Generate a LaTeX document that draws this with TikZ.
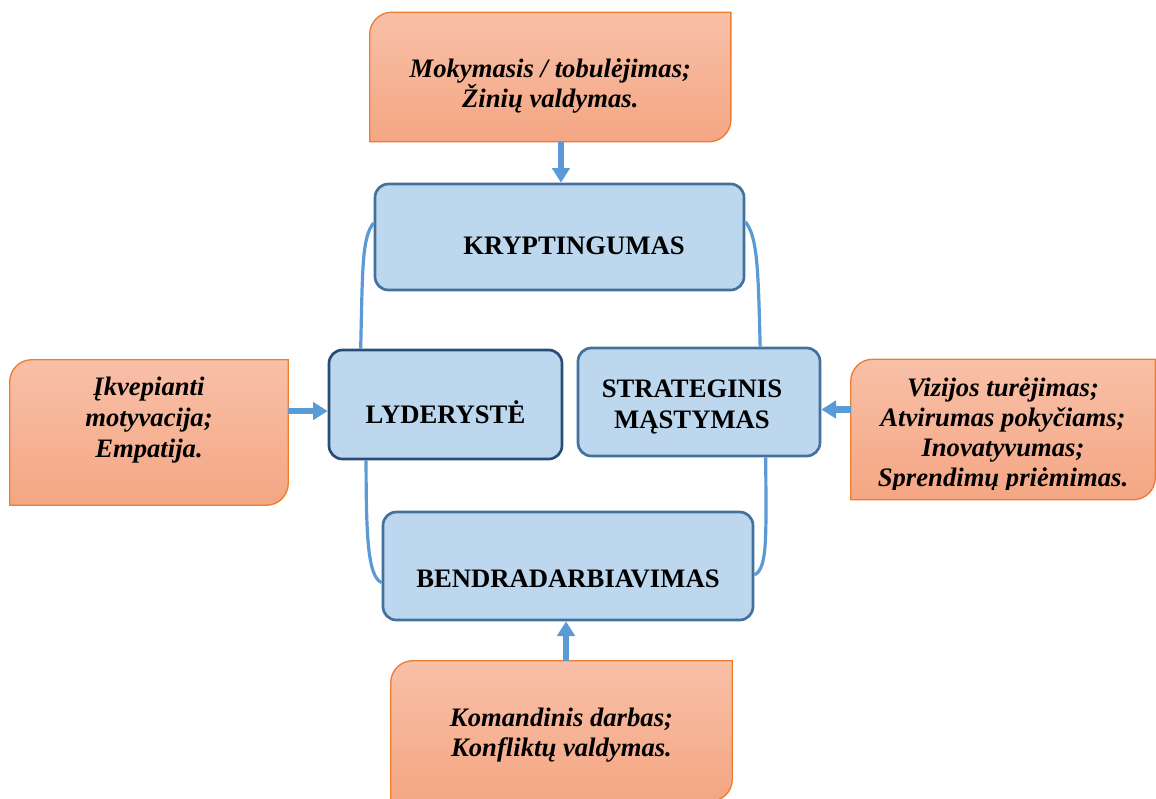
\documentclass[tikz,border=0pt]{standalone}
\usepackage{fontspec}
\setmainfont{Liberation Serif}
\usetikzlibrary{arrows.meta,calc}

\definecolor{ofillA}{RGB}{248,192,168}
\definecolor{ofillB}{RGB}{244,166,131}
\definecolor{oline}{RGB}{237,125,49}
\definecolor{bfill}{RGB}{189,215,238}
\definecolor{bline}{RGB}{65,113,156}
\definecolor{bdark}{RGB}{40,78,120}
\definecolor{conn}{RGB}{91,155,213}

\newcommand{\orad}{16.5pt}
\newcommand{\orangeshape}[1]{%
  \path[oshape] (#1.south west) -- ([yshift=-\orad]#1.north west)
    arc[start angle=180,end angle=90,radius=\orad] -- (#1.north east)
    -- ([yshift=\orad]#1.south east)
    arc[start angle=0,end angle=-90,radius=\orad] -- cycle;}

\begin{document}
\begin{tikzpicture}[x=0.75pt,y=-0.75pt,
  obox/.style={draw=none,fill=none,inner sep=0pt},
  oshape/.style={draw=oline,line width=1pt,top color=ofillA,bottom color=ofillB},
  otext/.style={font=\fontsize{20}{23}\selectfont\bfseries\itshape,align=center,inner sep=0pt},
  bbox/.style={draw=bline,line width=2pt,fill=bfill,rounded corners=10pt,inner sep=0pt},
  btext/.style={font=\fontsize{20}{23}\selectfont\bfseries,align=center,inner sep=0pt},
  arr/.style={draw=conn,line width=4.8pt,-{Triangle[length=11pt,width=13pt]}},
  link/.style={draw=conn,line width=2.4pt}]

\useasboundingbox (0,0) rectangle (1156,799);
\clip (0,0) rectangle (1156,799);

% blue boxes
\node[bbox,minimum width=276.75pt,minimum height=79.5pt,
  label={[btext,xshift=10.9pt,yshift=-6.75pt]center:KRYPTINGUMAS}] (kry) at (559.5,237) {};
\node[bbox,draw=bdark,minimum width=174.75pt,minimum height=81.75pt,
  label={[btext,yshift=-5.6pt]center:LYDERYSTĖ}] (lyd) at (445.5,404.5) {};
\node[bbox,minimum width=181.5pt,minimum height=81pt,
  label={[btext,xshift=-5.25pt,yshift=-3.75pt]center:{STRATEGINIS\\MĄSTYMAS}}] (str) at (699,402) {};
\node[bbox,minimum width=277.5pt,minimum height=81pt,
  label={[btext,yshift=-9.75pt]center:BENDRADARBIAVIMAS}] (ben) at (568,566) {};

% orange boxes
\node[obox,minimum width=270.5pt,minimum height=96.75pt] (ot) at (550.3,77) {};
\orangeshape{ot}
\node[otext] (ott) at ([yshift=-6.75pt]ot.center) {Mokymasis / tobulėjimas;\\Žinių valdymas.};

\node[obox,minimum width=208.5pt,minimum height=108.75pt] (ol) at (149,432.5) {};
\orangeshape{ol}
\node[otext] (olt) at ([yshift=9.4pt]ol.center) {Įkvepianti\\motyvacija;\\Empatija.};

\node[obox,minimum width=228pt,minimum height=105pt] (or) at (1003,429.5) {};
\orangeshape{or}
\begin{scope}
  \clip ([yshift=8pt]or.south west) rectangle (or.north east);
  \node[otext,font=\fontsize{20}{22.5}\selectfont\bfseries\itshape] (ort) at ([yshift=-4pt]or.center)
    {Vizijos turėjimas;\\Atvirumas pokyčiams;\\Inovatyvumas;\\Sprendimų priėmimas.};
\end{scope}

\node[obox,minimum width=255.75pt,minimum height=105pt] (ob) at (561.5,731) {};
\orangeshape{ob}
\node[otext] (obt) at ([yshift=-3pt]ob.center) {Komandinis darbas;\\Konfliktų valdymas.};

% arrows
\coordinate (a1) at ([xshift=8pt]ot.south);
\draw[arr] (a1) -- (a1 |- kry.north);
\coordinate (a2) at ([yshift=16.1pt]ol.east);
\draw[arr] (a2) -- (a2 -| lyd.west);
\coordinate (a3) at ([yshift=15pt]or.west);
\draw[arr] (a3) -- (a3 -| str.east);
\coordinate (a4) at ([xshift=3.4pt]ob.north);
\draw[arr] (a4) -- (a4 |- ben.south);

% curved links
\draw[link] ($(kry.north west)!0.37!(kry.south west)$) .. controls +(-12,15) and +(2,-80) .. ($(lyd.north west)!0.14!(lyd.north east)$);
\draw[link] ($(kry.north east)!0.36!(kry.south east)$) .. controls +(12,15) and +(-2,-80) .. ($(str.north west)!0.75!(str.north east)$);
\draw[link] ($(lyd.south west)!0.163!(lyd.south east)$) .. controls +(0,75) and +(-14,-6) .. ($(ben.north west)!0.65!(ben.south west)$);
\draw[link] ($(str.south west)!0.773!(str.south east)$) .. controls +(0,75) and +(14,-6) .. ($(ben.north east)!0.58!(ben.south east)$);
\end{tikzpicture}
\end{document}
